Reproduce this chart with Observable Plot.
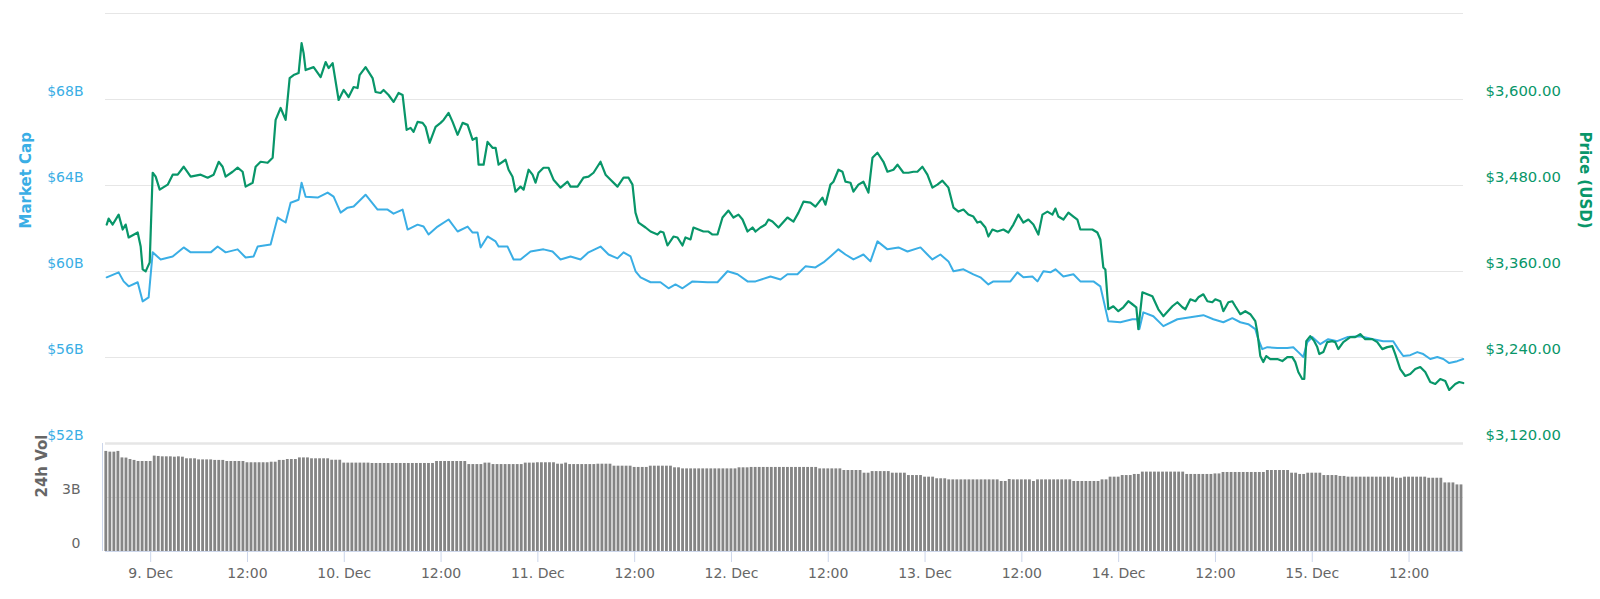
<!DOCTYPE html>
<html>
<head>
<meta charset="utf-8">
<script src="https://cdn.jsdelivr.net/npm/d3@7"></script>
<script src="https://cdn.jsdelivr.net/npm/@observablehq/plot@0.6"></script>
<style>
  body { margin: 0; background: #fff; }
  #wrap { position: relative; width: 1600px; height: 599px; overflow: hidden; font-family: "DejaVu Sans", sans-serif; }
  #wrap svg { position: absolute; left: 0; }
</style>
</head>
<body>
<div id="wrap"></div>
<script>
// [hours since 9 Dec 2018 00:00 UTC, market cap in $B]
const capSeries = [[-5.45,59.73],[-3.97,59.96],[-3.35,59.54],[-2.73,59.31],[-1.61,59.50],[-0.99,58.61],[-0.25,58.80],[0.25,60.89],[1.24,60.56],[2.73,60.70],[4.09,61.12],[4.96,60.89],[7.44,60.89],[8.30,61.16],[9.29,60.89],[10.78,61.03],[11.77,60.65],[12.76,60.70],[13.26,61.16],[14.87,61.26],[15.74,62.51],[16.73,62.28],[17.35,63.20],[18.34,63.34],[18.71,64.13],[19.21,63.48],[20.70,63.44],[21.94,63.67],[22.68,63.48],[23.55,62.74],[24.41,62.97],[25.16,63.02],[26.64,63.57],[28.13,62.88],[29.37,62.88],[30.11,62.69],[31.23,62.88],[31.85,61.95],[33.09,62.18],[33.83,62.09],[34.45,61.72],[35.57,62.09],[36.93,62.42],[38.05,61.86],[39.29,62.09],[39.91,61.81],[40.53,61.81],[40.90,61.12],[41.76,61.63],[42.76,61.40],[43.13,61.16],[44.24,61.16],[44.99,60.56],[45.85,60.56],[47.09,60.93],[48.70,61.03],[49.82,60.93],[50.81,60.56],[52.05,60.70],[53.29,60.56],[54.28,60.89],[55.77,61.16],[56.76,60.79],[57.87,60.61],[58.62,60.89],[59.49,60.70],[60.11,60.01],[60.73,59.73],[61.97,59.50],[63.20,59.50],[64.20,59.22],[65.06,59.40],[65.93,59.22],[67.17,59.54],[69.03,59.50],[70.27,59.50],[71.51,60.01],[72.75,59.87],[73.99,59.54],[74.98,59.54],[76.84,59.77],[78.08,59.63],[78.94,59.87],[80.18,59.87],[81.17,60.24],[82.41,60.19],[83.40,60.42],[84.27,60.70],[85.26,61.03],[86.13,60.79],[87.12,60.56],[88.36,60.79],[89.23,60.47],[90.10,61.40],[91.34,61.03],[92.70,61.12],[93.82,60.93],[95.43,61.12],[96.29,60.79],[96.91,60.56],[97.90,60.79],[98.90,60.47],[99.52,60.01],[100.76,60.10],[101.99,59.87],[102.86,59.73],[103.85,59.40],[104.47,59.54],[105.71,59.54],[106.58,59.54],[107.45,59.96],[108.19,59.73],[109.31,59.77],[109.93,59.54],[110.67,60.01],[111.54,59.96],[112.16,60.10],[113.15,59.77],[114.39,59.87],[115.25,59.54],[116.87,59.54],[117.73,59.31],[118.10,58.71],[118.72,57.69],[120.21,57.64],[121.70,57.78],[122.32,57.78],[122.57,57.32],[123.06,58.10],[124.30,57.92],[125.54,57.46],[127.28,57.78],[128.89,57.87],[130.50,57.97],[131.74,57.78],[132.98,57.64],[134.09,57.83],[135.08,57.64],[136.07,57.55],[136.94,57.32],[137.31,56.85],[137.80,56.39],[138.43,56.48],[139.67,56.44],[140.91,56.44],[141.65,56.48],[142.27,56.25],[142.89,56.02],[143.38,56.71],[144.00,56.95],[144.99,56.62],[145.98,56.85],[147.10,56.76],[148.34,56.95],[149.95,56.99],[151.56,56.85],[152.80,56.76],[154.04,56.76],[154.66,56.39],[155.28,56.07],[156.15,56.11],[157.02,56.25],[157.76,56.16],[158.63,55.93],[159.50,56.02],[160.25,55.93],[160.98,55.74],[161.97,55.83],[162.72,55.93]];

// [hours since 9 Dec 2018 00:00 UTC, price in USD]
const priceSeries = [[-5.45,3425.5],[-5.21,3433.9],[-4.71,3425.5],[-3.97,3439.4],[-3.47,3418.6],[-3.10,3425.5],[-2.73,3407.5],[-1.61,3414.4],[-1.24,3394.9],[-0.99,3363.0],[-0.62,3360.2],[-0.12,3372.7],[0.25,3497.8],[0.62,3492.3],[1.12,3474.2],[2.11,3481.2],[2.73,3495.1],[3.35,3495.1],[4.09,3506.2],[4.96,3492.3],[6.20,3495.1],[7.06,3490.9],[7.81,3495.1],[8.43,3513.1],[8.92,3506.2],[9.29,3492.3],[10.16,3499.2],[10.78,3504.8],[11.40,3499.2],[11.77,3478.4],[12.64,3483.9],[13.01,3506.2],[13.63,3513.1],[14.50,3511.7],[15.12,3518.7],[15.49,3571.5],[16.11,3588.2],[16.73,3571.5],[17.23,3629.9],[17.72,3634.1],[18.34,3636.9],[18.71,3678.6],[18.96,3664.7],[19.21,3641.1],[20.20,3645.2],[21.07,3631.3],[21.69,3652.2],[22.06,3643.8],[22.56,3650.8],[23.30,3599.3],[23.92,3613.3],[24.54,3603.5],[25.16,3617.4],[25.65,3616.0],[25.90,3634.1],[26.64,3645.2],[27.51,3629.9],[27.88,3610.5],[28.50,3609.1],[28.87,3613.3],[29.49,3606.3],[30.11,3596.6],[30.73,3609.1],[31.23,3606.3],[31.73,3557.6],[32.22,3560.4],[32.59,3554.9],[33.09,3568.8],[33.71,3567.4],[34.08,3561.8],[34.58,3539.6],[35.32,3561.8],[35.94,3567.4],[36.31,3571.5],[36.93,3581.3],[37.43,3568.8],[38.05,3550.7],[38.67,3567.4],[39.29,3564.6],[39.91,3543.7],[40.40,3546.5],[40.65,3509.0],[41.27,3509.0],[41.76,3540.9],[42.38,3532.6],[42.76,3532.6],[43.13,3509.0],[44.00,3515.9],[44.37,3502.0],[44.86,3492.3],[45.23,3471.4],[45.85,3478.4],[46.23,3474.2],[46.85,3502.0],[47.34,3495.1],[47.71,3483.9],[48.08,3497.8],[48.70,3504.8],[49.32,3504.8],[49.94,3488.1],[50.81,3477.0],[51.68,3485.3],[52.05,3478.4],[52.92,3478.4],[53.66,3490.9],[54.28,3492.3],[54.90,3497.8],[55.77,3513.1],[56.39,3495.1],[57.01,3488.1],[57.87,3478.4],[58.62,3490.9],[59.24,3490.9],[59.73,3481.2],[60.10,3442.2],[60.48,3428.3],[61.35,3421.4],[61.97,3415.8],[62.83,3411.6],[63.20,3415.8],[63.57,3414.4],[64.07,3396.3],[64.81,3408.8],[65.31,3407.5],[65.93,3396.3],[66.30,3407.5],[66.92,3404.7],[67.29,3421.4],[67.91,3418.6],[68.53,3415.8],[69.15,3415.8],[69.65,3411.6],[70.27,3411.6],[70.89,3435.3],[71.63,3445.0],[72.25,3435.3],[72.87,3439.4],[73.37,3432.5],[73.99,3415.8],[74.61,3421.4],[74.98,3415.8],[75.60,3421.4],[76.22,3425.5],[76.59,3432.5],[77.08,3429.7],[77.83,3421.4],[78.94,3435.3],[79.69,3429.7],[80.31,3442.2],[80.93,3457.5],[81.79,3456.1],[82.41,3450.6],[83.28,3463.1],[83.65,3453.3],[84.27,3481.2],[84.64,3485.3],[85.26,3502.0],[85.76,3499.2],[86.13,3485.3],[86.75,3483.9],[87.12,3471.4],[87.74,3481.2],[88.36,3485.3],[88.98,3470.0],[89.48,3518.7],[90.10,3525.7],[90.84,3513.1],[91.34,3499.2],[92.08,3502.0],[92.58,3509.0],[93.32,3497.8],[93.94,3497.8],[94.56,3499.2],[95.05,3499.2],[95.67,3506.2],[96.29,3495.1],[96.91,3477.0],[97.53,3481.2],[98.15,3486.7],[98.90,3477.0],[99.52,3449.2],[100.14,3443.6],[100.76,3446.4],[101.37,3439.4],[101.99,3436.7],[102.49,3428.3],[102.86,3429.7],[103.48,3421.4],[103.85,3408.8],[104.35,3418.6],[104.97,3415.8],[105.71,3418.6],[106.33,3414.4],[106.95,3425.5],[107.57,3439.4],[108.19,3428.3],[108.81,3432.5],[109.43,3425.5],[110.05,3411.6],[110.55,3439.4],[111.17,3443.6],[111.79,3439.4],[112.16,3447.8],[112.53,3436.7],[113.15,3432.5],[113.77,3442.2],[114.39,3436.7],[114.88,3432.5],[115.25,3418.6],[116.12,3418.6],[116.74,3418.6],[117.36,3414.4],[117.73,3404.7],[118.10,3365.7],[118.35,3362.9],[118.72,3307.3],[119.34,3311.5],[119.96,3304.6],[120.58,3310.1],[121.20,3318.5],[121.70,3314.3],[122.19,3310.1],[122.44,3279.5],[122.94,3331.0],[123.56,3328.2],[124.18,3325.4],[124.92,3307.3],[125.54,3297.6],[126.66,3311.5],[127.28,3317.1],[127.90,3310.1],[128.27,3307.3],[128.89,3321.2],[129.51,3318.5],[129.88,3324.0],[130.50,3328.2],[131.00,3318.5],[131.61,3317.1],[131.98,3321.2],[132.60,3318.5],[132.98,3304.6],[133.60,3317.1],[134.09,3318.5],[134.46,3311.5],[135.08,3300.4],[135.70,3304.6],[136.32,3300.4],[136.94,3290.7],[137.19,3275.4],[137.56,3242.0],[137.93,3233.6],[138.30,3242.0],[138.80,3237.8],[139.67,3237.8],[140.29,3235.0],[140.91,3240.6],[141.53,3240.6],[141.90,3233.6],[142.27,3219.7],[142.76,3210.0],[143.01,3210.0],[143.26,3262.8],[143.75,3269.8],[144.25,3262.8],[144.62,3254.5],[144.87,3244.8],[145.37,3247.6],[145.86,3261.5],[146.48,3262.8],[146.85,3261.5],[147.23,3251.7],[147.85,3261.5],[148.71,3268.4],[149.33,3268.4],[149.95,3272.6],[150.57,3265.6],[151.44,3265.6],[152.06,3261.5],[152.68,3251.7],[153.30,3254.5],[153.92,3255.9],[154.29,3244.8],[154.91,3223.9],[155.53,3214.2],[156.15,3217.0],[156.77,3223.9],[157.39,3226.7],[158.01,3219.7],[158.63,3205.8],[159.25,3203.1],[159.87,3210.0],[160.49,3207.2],[160.98,3194.7],[161.73,3203.1],[162.22,3205.8],[162.72,3204.4]];

// 24h volume in $B, one bar every 30 minutes starting 8 Dec 18:30
const volume = [
5.56,5.52,5.52,5.56,5.20,5.19,5.11,5.06,5.00,5.00,5.00,5.00,
5.30,5.28,5.26,5.26,5.26,5.24,5.26,5.24,
5.15,5.15,5.15,
5.09,5.09,5.09,5.09,
5.06,5.06,5.06,
5.00,5.00,5.00,5.00,5.00,
4.93,4.93,4.93,4.93,4.93,4.93,
4.96,4.96,
5.06,5.06,
5.11,5.11,5.11,
5.20,5.20,5.20,
5.15,5.15,5.15,5.15,5.15,
5.07,5.07,5.07,
4.91,4.91,4.91,4.91,4.91,4.91,4.91,
4.89,4.89,4.89,4.89,4.89,4.89,4.89,4.89,4.89,4.89,4.89,4.89,4.89,4.89,4.89,4.89,
5.00,5.00,5.00,5.00,5.00,5.00,5.00,5.00,
4.83,4.83,4.83,4.83,
4.91,4.91,
4.83,4.83,4.83,4.83,4.83,4.83,4.83,4.83,
4.91,4.91,4.91,
4.93,4.93,4.93,4.93,4.93,
4.85,4.85,
4.91,
4.83,4.83,4.83,4.83,4.83,4.83,4.83,
4.85,4.85,4.85,4.85,
4.74,4.74,4.74,4.74,4.74,
4.67,4.67,4.67,4.67,
4.74,4.74,4.74,4.74,4.74,4.74,
4.65,4.65,
4.59,4.59,4.59,4.59,4.59,4.59,4.59,4.59,4.59,4.59,4.59,4.59,4.59,4.59,
4.65,4.65,4.65,
4.67,4.67,4.67,4.67,4.67,4.67,4.67,4.67,4.67,4.67,4.67,4.67,4.67,4.67,4.67,4.67,4.67,
4.59,4.59,4.59,4.59,4.59,4.59,
4.50,4.50,4.50,4.50,4.50,
4.35,4.35,
4.44,4.44,4.44,4.44,4.44,
4.35,4.35,4.35,4.35,
4.22,4.22,4.22,4.22,
4.13,4.13,4.13,
4.04,4.04,4.04,
3.98,3.98,3.98,3.98,3.98,3.98,3.98,3.98,3.98,3.98,3.98,3.98,3.98,
3.89,3.89,
4.00,
3.98,3.98,3.98,3.98,3.98,
3.89,
3.98,3.98,3.98,3.98,3.98,3.98,3.98,3.98,3.98,
3.89,3.89,3.89,3.89,3.89,3.89,3.89,
3.98,3.98,
4.13,4.13,4.13,
4.22,4.22,4.22,
4.28,4.28,
4.41,4.41,4.41,4.41,4.41,4.41,4.41,4.41,4.41,4.41,4.41,
4.28,4.28,4.28,4.28,4.28,4.28,4.28,
4.31,4.31,
4.39,4.39,4.39,4.39,4.39,4.39,4.39,4.39,4.39,4.39,4.39,
4.50,4.50,4.50,4.50,4.50,4.50,
4.35,4.35,
4.28,4.28,
4.35,4.35,4.35,4.35,
4.22,4.22,4.22,4.22,
4.17,4.17,
4.13,4.13,4.13,4.13,4.13,4.13,4.13,4.13,4.13,4.13,4.13,4.13,
4.07,4.07,
4.13,4.13,4.13,4.13,4.13,4.13,
4.07,4.07,4.07,4.07,
3.81,3.81,3.81,
3.70,3.70
];
const volStartHour = -5.5;
const volStepHours = 0.5;

const capTicks = [52, 56, 60, 64, 68];
const gridTicks = [56, 60, 64, 68, 72];
const volTicks = [0, 3];
const priceAt52B = 3120;   // right axis: $52B line = $3,120
const pricePerB = 30;      // $4B step = $120 step

const BLUE = "#3aaee5";
const GREEN = "#089669";
const GRAY = "#666666";

const t0 = Date.UTC(2018, 11, 9);
const toDate = h => new Date(t0 + h * 3600e3);
const xDomain = [toDate(-5.6), toDate(162.75)];
const xTicks = d3.utcHour.every(12).range(toDate(0), toDate(157));
const fmtDay = d3.utcFormat("%-d. %b");
const fmtHour = d3.utcFormat("%H:%M");
const fmtX = d => d.getUTCHours() === 0 ? fmtDay(d) : fmtHour(d);
const fmtPrice = d3.format("$,.2f");

const baseStyle = { fontFamily: "DejaVu Sans, sans-serif", fontSize: "14px", background: "transparent", overflow: "visible" };

const main = Plot.plot({
  width: 1600, height: 444,
  marginTop: 13, marginBottom: 1, marginLeft: 105, marginRight: 137,
  style: baseStyle,
  x: { type: "utc", domain: xDomain, axis: null },
  y: { domain: [52, 72], axis: null },
  marks: [
    Plot.ruleY(gridTicks, { stroke: "#e6e6e6", strokeWidth: 1 }),
    Plot.ruleY([52], { stroke: "#e6e6e6", strokeWidth: 2.5 }),
    Plot.axisY(capTicks, { anchor: "left", tickSize: 0, tickPadding: 22, dy: -8, fill: BLUE, fontSize: 14, tickFormat: d => `$${d}B` }),
    Plot.axisY(capTicks, { anchor: "right", tickSize: 0, tickPadding: 22, dy: -8, fill: GREEN, fontSize: 14.8, tickFormat: d => fmtPrice(priceAt52B + (d - 52) * pricePerB) }),
    Plot.line(capSeries, { x: d => toDate(d[0]), y: d => d[1], stroke: BLUE, strokeWidth: 2 }),
    Plot.line(priceSeries, { x: d => toDate(d[0]), y: d => 52 + (d[1] - priceAt52B) / pricePerB, stroke: GREEN, strokeWidth: 2.2 }),
    Plot.text(["Market Cap"], { text: d => d, frameAnchor: "left", dx: -79, rotate: -90, fill: BLUE, fontWeight: "bold", fontSize: 15 }),
    Plot.text(["Price (USD)"], { text: d => d, frameAnchor: "right", dx: 121, rotate: 90, fill: GREEN, fontWeight: "bold", fontSize: 15 })
  ]
});
main.style.top = "0px";

const vol = Plot.plot({
  width: 1600, height: 156,
  marginTop: 0, marginBottom: 48, marginLeft: 105, marginRight: 137,
  style: baseStyle,
  x: { type: "utc", domain: xDomain, axis: null },
  y: { domain: [0, 6], axis: null },
  marks: [
    Plot.ruleY([3], { stroke: "#e6e6e6" }),
    Plot.rectY(volume, {
      x1: (d, i) => toDate(volStartHour + volStepHours * i - 0.25),
      x2: (d, i) => toDate(volStartHour + volStepHours * i + 0.25),
      y: d => d, fill: "#858585", insetLeft: 0.6, insetRight: 0.6
    }),
    Plot.ruleY([0], { stroke: "#ccd6eb" }),
    Plot.ruleX([xDomain[0]], { stroke: "#ccd6eb", dx: -3 }),
    Plot.axisY(volTicks, { anchor: "left", tickSize: 0, tickPadding: 25, dy: -8, fill: GRAY, fontSize: 14, tickFormat: d => d ? `${d}B` : "0" }),
    Plot.axisX(xTicks, { anchor: "bottom", tickSize: 11, tickPadding: 6, stroke: "#ccd6eb", fill: GRAY, fontSize: 14, tickFormat: fmtX }),
    Plot.text(["24h Vol"], { text: d => d, frameAnchor: "left", dx: -63, rotate: -90, fill: GRAY, fontWeight: "bold", fontSize: 15 })
  ]
});
vol.style.top = "443px";

const wrap = document.getElementById("wrap");
wrap.appendChild(vol);
wrap.appendChild(main);
</script>
</body>
</html>
